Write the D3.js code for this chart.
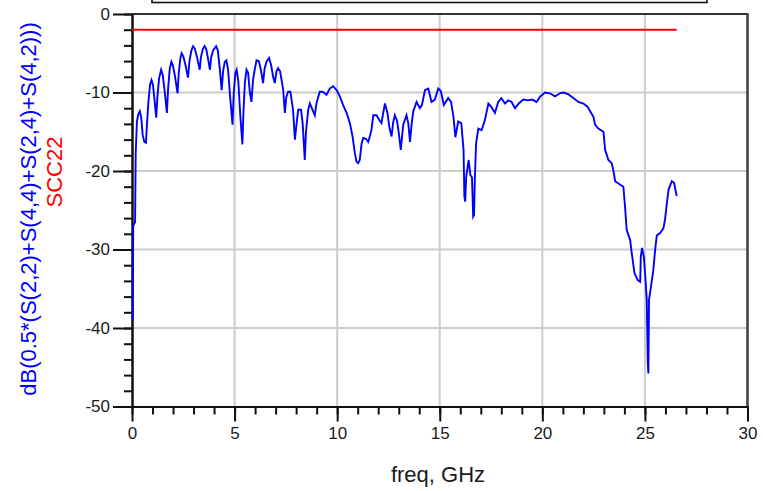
<!DOCTYPE html>
<html>
<head>
<meta charset="utf-8">
<script src="https://cdn.jsdelivr.net/npm/d3@7"></script>
<style>
  html, body { margin: 0; padding: 0; background: #fff; }
  svg { display: block; font-family: "Liberation Sans", Arial, sans-serif; }
</style>
</head>
<body>
<svg id="chart" width="763" height="491"></svg>
<script>
// Frequency sweep (GHz) and the mixed-mode return loss trace (dB)
const freqGHz = [
  0.03, 0.06, 0.15, 0.18, 0.24, 0.30, 0.38, 0.45, 0.52, 0.60, 0.68, 0.73, 0.80, 0.88, 0.95,
  1.02, 1.10, 1.18, 1.24, 1.32, 1.42, 1.50, 1.60, 1.70, 1.76, 1.84, 1.92, 2.00, 2.10, 2.22, 2.28,
  2.36, 2.42, 2.50, 2.60, 2.73, 2.80, 2.90, 2.98, 3.06, 3.16, 3.30, 3.36, 3.46, 3.54, 3.62, 3.70,
  3.80, 3.86, 3.96, 4.10, 4.18, 4.28, 4.37, 4.44, 4.52, 4.60, 4.68, 4.78, 4.90, 4.96, 5.04, 5.10,
  5.18, 5.28, 5.38, 5.44, 5.50, 5.58, 5.66, 5.74, 5.82, 5.90, 5.98, 6.07, 6.18, 6.28, 6.39, 6.46,
  6.55, 6.68, 6.78, 6.88, 6.96, 7.04, 7.12, 7.22, 7.37, 7.45, 7.52, 7.61, 7.72, 7.85, 7.94, 8.02,
  8.10, 8.24, 8.32, 8.42, 8.48, 8.59, 8.67, 8.80, 8.91, 8.99, 9.15, 9.30, 9.48, 9.64, 9.80, 9.97,
  10.13, 10.29, 10.46, 10.62, 10.75, 10.86, 10.94, 11.02, 11.10, 11.19, 11.27, 11.40, 11.51, 11.60, 11.67, 11.76,
  11.92, 12.05, 12.16, 12.25, 12.33, 12.45, 12.55, 12.65, 12.73, 12.81, 12.92, 13.02, 13.10, 13.22, 13.38, 13.47,
  13.55, 13.63, 13.71, 13.87, 14.03, 14.13, 14.28, 14.44, 14.60, 14.76, 14.93, 15.05, 15.20, 15.41, 15.55, 15.67,
  15.76, 15.90, 16.05, 16.16, 16.20, 16.24, 16.29, 16.41, 16.49, 16.57, 16.63, 16.67, 16.71, 16.77, 16.88, 17.04,
  17.20, 17.37, 17.53, 17.69, 17.85, 18.00, 18.18, 18.34, 18.50, 18.67, 18.85, 19.07, 19.30, 19.50, 19.72, 19.90,
  20.13, 20.37, 20.62, 20.85, 21.02, 21.25, 21.51, 21.76, 22.00, 22.20, 22.33, 22.49, 22.57, 22.73, 22.98, 23.06,
  23.22, 23.38, 23.46, 23.55, 23.71, 23.95, 24.03, 24.11, 24.28, 24.36, 24.49, 24.65, 24.77, 24.80, 24.86, 24.95,
  25.02, 25.09, 25.14, 25.17, 25.20, 25.33, 25.41, 25.50, 25.58, 25.74, 25.90, 25.98, 26.07, 26.15, 26.31, 26.42,
  26.55
];
const mixedDB = [
  -39.0, -27.0, -26.5, -17.7, -13.7, -12.8, -12.4, -13.2, -15.4, -16.3, -16.4, -14.0, -11.2, -9.0, -8.4,
  -9.0, -11.0, -13.2, -10.5, -8.2, -7.1, -7.8, -10.0, -12.6, -9.5, -7.0, -6.1, -6.6, -8.0, -10.1, -7.5,
  -5.6, -5.0, -5.4, -6.4, -8.1, -6.0, -4.6, -4.1, -4.4, -5.4, -7.1, -5.5, -4.4, -4.1, -4.5, -5.6,
  -7.1, -5.5, -4.6, -4.1, -4.6, -7.0, -9.7, -7.3, -6.1, -5.9, -7.0, -10.5, -14.1, -10.0, -7.5, -7.1,
  -8.5, -13.0, -16.6, -12.0, -8.8, -7.1, -7.5, -9.9, -11.2, -8.4, -7.1, -5.9, -6.0, -7.1, -8.8, -7.0,
  -6.1, -5.6, -6.5, -8.0, -8.8, -7.3, -6.9, -7.3, -9.7, -12.6, -10.6, -9.9, -9.9, -12.2, -16.0, -14.0,
  -12.2, -12.2, -14.0, -18.6, -15.0, -12.2, -11.4, -12.2, -12.9, -11.4, -9.9, -9.9, -10.3, -9.5, -9.2, -9.7,
  -10.5, -11.6, -12.6, -13.9, -15.6, -17.7, -18.8, -19.0, -18.6, -16.5, -15.8, -15.9, -16.3, -15.5, -14.8, -12.9,
  -12.9, -13.5, -13.9, -12.5, -11.4, -12.6, -14.5, -15.6, -13.8, -12.9, -13.6, -15.5, -17.3, -14.1, -12.9, -14.0,
  -16.3, -14.0, -12.4, -11.2, -12.0, -11.6, -9.7, -9.5, -11.2, -10.9, -9.5, -9.8, -11.6, -10.7, -11.2, -13.1,
  -15.7, -13.7, -13.9, -17.3, -23.2, -23.9, -20.7, -18.6, -20.5, -20.8, -25.8, -25.6, -21.1, -16.5, -14.6, -14.8,
  -13.5, -11.4, -11.9, -12.6, -11.2, -10.7, -11.4, -11.0, -11.2, -12.0, -11.4, -10.9, -11.0, -10.9, -11.2, -10.5,
  -10.0, -10.1, -10.5, -10.1, -10.0, -10.2, -10.7, -11.2, -11.4, -11.8, -12.4, -13.1, -14.1, -14.6, -15.0, -17.3,
  -18.6, -19.0, -19.9, -21.3, -21.6, -22.0, -24.5, -27.5, -28.8, -30.5, -33.0, -33.9, -34.1, -30.9, -29.8, -31.0,
  -33.5, -36.4, -44.5, -45.8, -36.4, -34.1, -32.6, -30.0, -28.2, -27.9, -27.3, -26.2, -24.1, -22.4, -21.3, -21.5,
  -23.2
];

// SCC22 reference level (flat)
const sccFreqGHz = [0, 26.55];
const sccDB = [-2, -2];

// Axis ticks
const xTicks = [0, 5, 10, 15, 20, 25, 30];
const xMinorTicks = d3.range(0, 31, 1);
const yTicks = [0, -10, -20, -30, -40, -50];
const yMinorTicks = d3.range(-50, 1, 2);

const yTitleBlue = "dB(0.5*(S(2,2)+S(4,4)+S(2,4)+S(4,2)))";
const yTitleRed = "SCC22";
const xTitle = "freq, GHz";

const svg = d3.select("#chart");
const plotL = 132, plotR = 747.5, plotT = 14, plotB = 406.5;

const x = d3.scaleLinear().domain([0, 30]).range([plotL, plotR]);
const y = d3.scaleLinear().domain([-50, 0]).range([plotB, plotT]);

// Legend frame running off the top edge
svg.append("rect")
  .attr("x", 152).attr("y", -20).attr("width", 555).attr("height", 22.5)
  .attr("fill", "none").attr("stroke", "#111").attr("stroke-width", 1.6);

// Grid
const grid = svg.append("g").attr("stroke", "#cccccc").attr("stroke-width", 2);
xTicks.filter(d => d > 0 && d < 30).forEach(d => {
  grid.append("line").attr("x1", x(d)).attr("x2", x(d)).attr("y1", plotT).attr("y2", plotB);
});
yTicks.filter(d => d < 0 && d > -50).forEach(d => {
  grid.append("line").attr("x1", plotL).attr("x2", plotR).attr("y1", y(d)).attr("y2", y(d));
});

// Frame: top and right
svg.append("line").attr("x1", plotL).attr("x2", plotR + 1).attr("y1", plotT).attr("y2", plotT)
  .attr("stroke", "#333").attr("stroke-width", 2.2);
svg.append("line").attr("x1", plotR).attr("x2", plotR).attr("y1", plotT).attr("y2", plotB)
  .attr("stroke", "#444").attr("stroke-width", 2.6);

// Axes
function styleAxis(g) {
  g.select(".domain").attr("stroke", "#111").attr("stroke-width", 2);
  g.selectAll(".tick line").attr("stroke", "#111").attr("stroke-width", 2);
  g.selectAll(".tick text").attr("fill", "#1a1a1a").attr("font-size", 17);
}

svg.append("g")
  .attr("transform", `translate(${plotL},0)`)
  .call(d3.axisLeft(y).tickValues(yMinorTicks).tickSize(8).tickSizeOuter(0).tickFormat(""))
  .call(styleAxis);
svg.append("g")
  .attr("transform", `translate(${plotL},0)`)
  .call(d3.axisLeft(y).tickValues(yTicks).tickSize(19).tickSizeOuter(0).tickPadding(3)
    .tickFormat(d => String(d)))
  .call(styleAxis);

svg.append("g")
  .attr("transform", `translate(0,${plotB})`)
  .call(d3.axisBottom(x).tickValues(xMinorTicks).tickSize(8).tickSizeOuter(0).tickFormat(""))
  .call(styleAxis);
svg.append("g")
  .attr("transform", `translate(0,${plotB})`)
  .call(d3.axisBottom(x).tickValues(xTicks).tickSize(15).tickSizeOuter(0).tickPadding(5)
    .tickFormat(d => String(d)))
  .call(styleAxis);

// Traces, drawn over the axis lines
svg.append("defs").append("clipPath").attr("id", "plotclip")
  .append("rect").attr("x", plotL - 2).attr("y", plotT).attr("width", plotR - plotL + 2).attr("height", plotB - plotT);

const line = d3.line().x(d => x(d[0])).y(d => y(d[1]));

svg.append("path")
  .datum(d3.zip(sccFreqGHz, sccDB))
  .attr("d", line)
  .attr("fill", "none").attr("stroke", "#ff0000").attr("stroke-width", 2)
  .attr("clip-path", "url(#plotclip)");

svg.append("path")
  .datum(d3.zip(freqGHz, mixedDB))
  .attr("d", line)
  .attr("fill", "none").attr("stroke", "#0000ff").attr("stroke-width", 1.9)
  .attr("stroke-linejoin", "miter")
  .attr("clip-path", "url(#plotclip)");

// Axis titles
svg.append("text")
  .attr("x", 438).attr("y", 482)
  .attr("text-anchor", "middle")
  .attr("font-size", 22).attr("fill", "#1a1a1a")
  .text(xTitle);

svg.append("text")
  .attr("transform", "translate(36,209) rotate(-90)")
  .attr("text-anchor", "middle")
  .attr("font-size", 22).attr("fill", "#0000ff")
  .text(yTitleBlue);

svg.append("text")
  .attr("transform", "translate(62,172) rotate(-90)")
  .attr("text-anchor", "middle")
  .attr("font-size", 22).attr("fill", "#ff0000")
  .text(yTitleRed);
</script>
</body>
</html>
